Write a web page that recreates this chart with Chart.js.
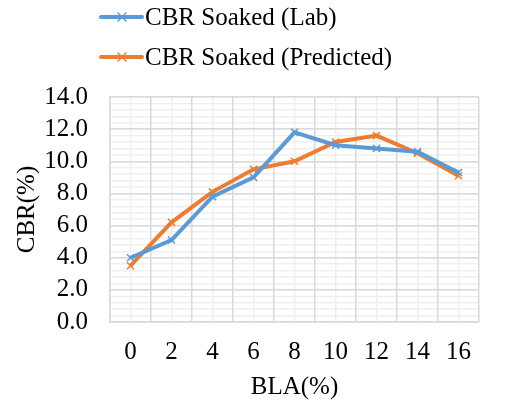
<!DOCTYPE html>
<html>
<head>
<meta charset="utf-8">
<script src="https://cdn.jsdelivr.net/npm/chart.js@4"></script>
<style>
  html, body { margin: 0; padding: 0; background: #fff; }
  #wrap { width: 528px; height: 414px; }
</style>
</head>
<body>
<div id="wrap"><canvas id="cbrChart" width="528" height="414"></canvas></div>
<script>
// datos
var blaLabels = ['0', '2', '4', '6', '8', '10', '12', '14', '16'];
var cbrLab = [4.0, 5.1, 7.8, 9.0, 11.8, 11.0, 10.8, 10.6, 9.3];
var cbrPredicted = [3.5, 6.2, 8.1, 9.5, 10.0, 11.2, 11.6, 10.5, 9.1];
var serieNames = ['CBR Soaked (Lab)', 'CBR Soaked (Predicted)'];
var serieColors = ['#5B9BD5', '#ED7D31'];

var fuente = '"Liberation Serif", "Times New Roman", serif';

// leyenda propia, dos filas alineadas a la izquierda como en Excel
var leyendaExcel = {
    id: 'leyendaExcel',
    afterDraw: function (chart) {
        var ctx = chart.ctx;
        ctx.save();
        chart.data.datasets.forEach(function (ds, i) {
            var y = 17 + i * 40;
            ctx.strokeStyle = ds.borderColor;
            ctx.lineWidth = 4;
            ctx.lineCap = 'round';
            ctx.beginPath();
            ctx.moveTo(101, y);
            ctx.lineTo(142, y);
            ctx.stroke();
            ctx.lineWidth = 1.5;
            ctx.beginPath();
            ctx.moveTo(118, y - 4); ctx.lineTo(126, y + 4);
            ctx.moveTo(118, y + 4); ctx.lineTo(126, y - 4);
            ctx.stroke();
            ctx.fillStyle = '#000';
            ctx.font = '25px ' + fuente;
            ctx.textBaseline = 'middle';
            ctx.textAlign = 'left';
            ctx.fillText(ds.label, 145, y + 1);
        });
        ctx.restore();
    }
};

var ctx = document.getElementById('cbrChart').getContext('2d');

var chart = new Chart(ctx, {
    type: 'line',
    data: {
        labels: blaLabels,
        datasets: [{
            label: serieNames[0],
            data: cbrLab,
            borderColor: serieColors[0],
            backgroundColor: serieColors[0],
            borderWidth: 4,
            pointStyle: 'crossRot',
            pointRadius: 5,
            pointBorderWidth: 1.5,
            tension: 0
        }, {
            label: serieNames[1],
            data: cbrPredicted,
            borderColor: serieColors[1],
            backgroundColor: serieColors[1],
            borderWidth: 4,
            pointStyle: 'crossRot',
            pointRadius: 5,
            pointBorderWidth: 1.5,
            tension: 0
        }]
    },
    options: {
        responsive: false,
        animation: false,
        layout: {
            padding: { top: 97, right: 49, left: 8, bottom: 8 }
        },
        scales: {
            xMinor: {
                type: 'category',
                position: 'bottom',
                offset: true,
                grid: { offset: false, color: '#efefef', lineWidth: 1.5, drawTicks: false },
                ticks: { display: false },
                border: { display: false }
            },
            yMinor: {
                type: 'linear',
                position: 'left',
                min: 0,
                max: 14,
                grid: { color: '#efefef', lineWidth: 1.5, drawTicks: false },
                ticks: { display: false, stepSize: 0.4, maxTicksLimit: 100 },
                border: { display: false }
            },
            x: {
                offset: true,
                grid: { offset: true, color: '#d9d9d9', lineWidth: 1.5, drawTicks: false },
                border: { color: '#d9d9d9', width: 1.5 },
                ticks: {
                    color: '#000',
                    font: { family: fuente, size: 25 },
                    padding: 15,
                    autoSkip: false,
                    maxRotation: 0
                },
                title: {
                    display: true,
                    text: 'BLA(%)',
                    color: '#000',
                    font: { family: fuente, size: 25 },
                    padding: { top: 2, bottom: 4 }
                },
                afterFit: function (scale) {
                    scale.height = 84;
                }
            },
            y: {
                min: 0,
                max: 14,
                grid: { color: '#d9d9d9', lineWidth: 1.5, drawTicks: false },
                border: { color: '#d9d9d9', width: 1.5 },
                ticks: {
                    stepSize: 2,
                    autoSkip: false,
                    color: '#000',
                    font: { family: fuente, size: 25 },
                    padding: 22,
                    callback: function (value) {
                        return value.toFixed(1);
                    }
                },
                title: {
                    display: true,
                    text: 'CBR(%)',
                    color: '#000',
                    font: { family: fuente, size: 25 },
                    padding: { top: 4, bottom: 4 }
                },
                afterFit: function (scale) {
                    scale.width = 102;
                }
            }
        },
        plugins: {
            legend: { display: false },
            tooltip: { enabled: false }
        }
    },
    plugins: [leyendaExcel]
});
</script>
</body>
</html>
